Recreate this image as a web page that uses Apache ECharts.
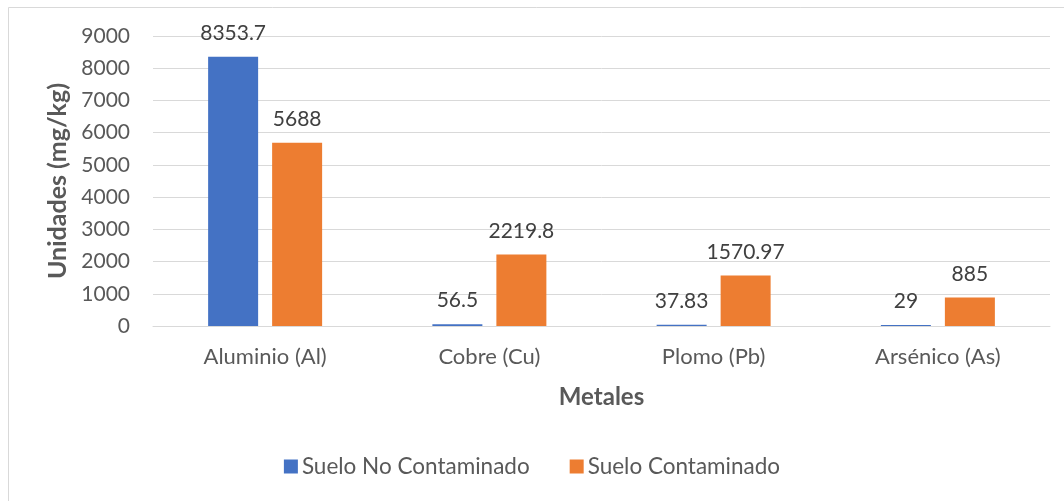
<!DOCTYPE html>
<html lang="es" style="height: 100%">
<head>
    <meta charset="UTF-8">
    <title>Metales</title>
    <script src="https://cdn.jsdelivr.net/npm/echarts@6/dist/echarts.min.js"></script>
</head>
<body style="height: 100%; margin: 0; background: #fff">
    <div id="chart" style="width: 1064px; height: 501px"></div>
    <script>
        // datos
        var categorias = ['Aluminio (Al)', 'Cobre (Cu)', 'Plomo (Pb)', 'Arsénico (As)'];
        var noContaminado = [8353.7, 56.5, 37.83, 29];
        var contaminado = [5688, 2219.8, 1570.97, 885];
        var nombresSeries = ['Suelo No Contaminado', 'Suelo Contaminado'];

        var fuente = 'Lato';
        var myChart = echarts.init(document.getElementById('chart'));

        var etiqueta = {
            show: true,
            position: 'top',
            distance: 13,
            color: '#404040',
            fontSize: 21,
            fontFamily: fuente
        };

        var option = {
            animation: false,
            backgroundColor: '#fff',
            graphic: [{
                type: 'rect',
                shape: { x: 8.5, y: 7.5, width: 1070, height: 510 },
                style: { fill: 'none', stroke: '#d9d9d9', lineWidth: 1 },
                silent: true
            }],
            grid: {
                left: 153,
                right: 14,
                top: 36,
                bottom: 175
            },
            legend: {
                bottom: 18,
                left: 'center',
                itemWidth: 14,
                itemHeight: 14,
                itemGap: 40,
                icon: 'rect',
                textStyle: { color: '#595959', fontSize: 22.5, fontFamily: fuente, padding: [0, 0, 0, -1] },
                data: nombresSeries
            },
            xAxis: {
                type: 'category',
                data: categorias,
                name: 'Metales',
                nameLocation: 'middle',
                nameGap: 59,
                nameTextStyle: { color: '#595959', fontSize: 24, fontWeight: 'bold', fontFamily: fuente },
                axisLine: { lineStyle: { color: '#d9d9d9', width: 1 } },
                axisTick: { show: false },
                axisLabel: { color: '#595959', fontSize: 22, fontFamily: fuente, margin: 20 }
            },
            yAxis: {
                type: 'value',
                min: 0,
                max: 9000,
                interval: 1000,
                name: 'Unidades (mg/kg)',
                nameLocation: 'middle',
                nameGap: 79,
                nameTextStyle: { color: '#595959', fontSize: 25, fontWeight: 'bold', fontFamily: fuente },
                axisLine: { show: false },
                axisTick: { show: false },
                axisLabel: {
                    color: '#595959', fontSize: 21, fontFamily: fuente, margin: 23,
                    formatter: function (v) { return String(v); }
                },
                splitLine: { lineStyle: { color: '#d9d9d9', width: 1 } }
            },
            series: [{
                name: nombresSeries[0],
                type: 'bar',
                data: noContaminado,
                barWidth: 50,
                barGap: '28%',
                itemStyle: { color: '#4472c4' },
                label: etiqueta
            }, {
                name: nombresSeries[1],
                type: 'bar',
                data: contaminado,
                barWidth: 50,
                barGap: '28%',
                itemStyle: { color: '#ed7d31' },
                label: etiqueta
            }]
        };

        myChart.setOption(option);
    </script>
</body>
</html>
